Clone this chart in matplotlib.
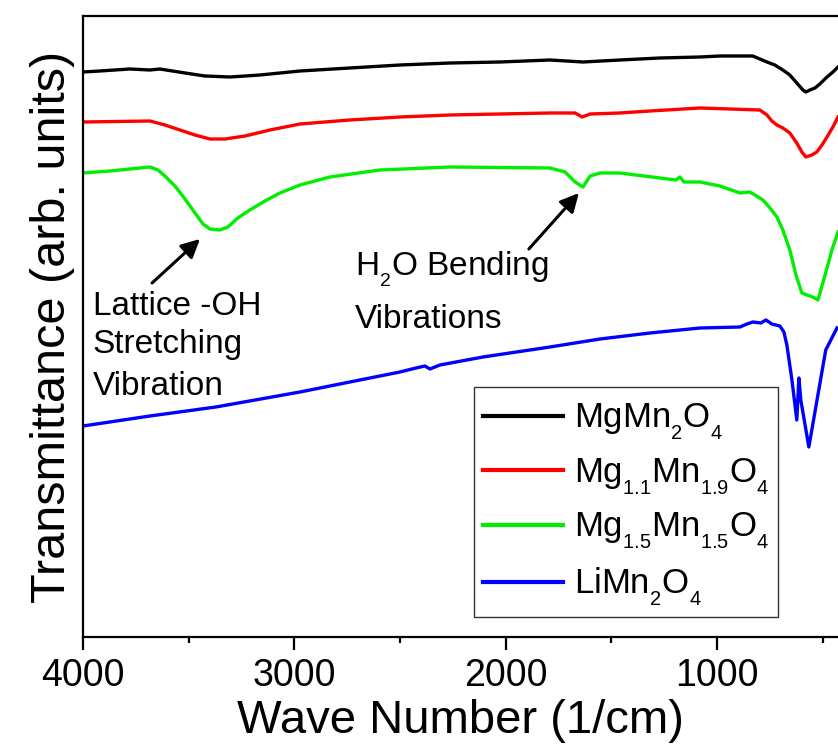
import matplotlib
matplotlib.use("Agg")
import matplotlib.pyplot as plt
from matplotlib.ticker import MultipleLocator
from matplotlib.patches import Rectangle
import matplotlib._mathtext as _mt

plt.rcParams['font.family'] = ['Liberation Sans', 'DejaVu Sans']
plt.rcParams['mathtext.fontset'] = 'custom'
plt.rcParams['mathtext.rm'] = 'Liberation Sans'
plt.rcParams['mathtext.it'] = 'Liberation Sans'
plt.rcParams['mathtext.default'] = 'regular'
# smaller, lower chemical-formula subscripts
_mt.SHRINK_FACTOR = 0.58
_mt.FontConstantsBase.sub1 = 0.65

# FTIR spectra (wavenumber in 1/cm, offset transmittance in arb. units)
wn_mg = [4000, 3920, 3778, 3683, 3636, 3517, 3423, 3304, 3162, 2973, 2737, 2500,
         2263, 2027, 1790, 1634, 1459, 1270, 1080, 986, 830, 797, 763, 726, 688,
         655, 622, 593, 579, 560, 536, 513, 479, 451, 427]
t_mg = [565, 566, 568, 567, 568, 564, 561, 560, 562, 566, 569, 572,
        574, 575, 577, 575, 577, 579, 580, 581, 581, 578, 575, 572, 567,
        562, 554, 547, 545, 547, 549, 553, 560, 565, 570]

wn_mg11 = [4000, 3683, 3612, 3541, 3470, 3399, 3328, 3233, 3115, 2973, 2737, 2500,
           2263, 2027, 1790, 1671, 1638, 1600, 1459, 1317, 1080, 797, 763, 740,
           716, 688, 655, 622, 598, 579, 551, 527, 503, 479, 451, 427]
t_mg11 = [515, 516, 512, 507, 502, 498, 498, 501, 507, 513, 517, 520,
          522, 523, 524, 524, 520, 523, 524, 526, 529, 527, 522, 516,
          512, 509, 504, 494, 485, 480, 482, 485, 492, 500, 510, 520]

wn_mg15 = [4000, 3872, 3778, 3683, 3645, 3612, 3565, 3517, 3470, 3432, 3399, 3352,
           3314, 3267, 3210, 3139, 3068, 2973, 2831, 2595, 2263, 1790, 1719, 1671,
           1634, 1600, 1553, 1459, 1270, 1194, 1175, 1156, 1080, 986, 891, 844,
           782, 749, 716, 688, 655, 626, 598, 574, 546, 522, 499, 475, 456, 427]
t_mg15 = [464, 466, 468, 470, 467, 461, 451, 438, 424, 413, 408, 407,
          410, 419, 427, 436, 444, 452, 460, 467, 470, 469, 465, 455,
          450, 461, 464, 464, 459, 457, 460, 455, 455, 451, 444, 445,
          437, 429, 420, 407, 387, 362, 344, 342, 340, 337, 354, 372, 387, 405]

wn_li = [4000, 3683, 3371, 2973, 2737, 2500, 2424, 2382, 2358, 2311, 2107, 1790,
         1553, 1317, 1080, 891, 858, 830, 792, 768, 740, 702, 683, 669, 645, 622,
         612, 603, 565, 532, 485, 432]
t_li = [211, 221, 230, 245, 255, 265, 269, 271, 268, 272, 280, 290,
        298, 304, 309, 310, 313, 315, 314, 317, 313, 311, 305, 292, 257, 217,
        259, 237, 190, 230, 287, 309]

labels = ['MgMn$_2$O$_4$', 'Mg$_{1.1}$Mn$_{1.9}$O$_4$',
          'Mg$_{1.5}$Mn$_{1.5}$O$_4$', 'LiMn$_2$O$_4$']
colors = ['#000000', '#ff0000', '#00ee00', '#0000ff']

fig = plt.figure(figsize=(8.38, 7.51), dpi=100)
ax = fig.add_axes([0.099, 0.1518, 0.901, 0.8269])

for wn, t, lab, c in zip([wn_mg, wn_mg11, wn_mg15, wn_li],
                         [t_mg, t_mg11, t_mg15, t_li], labels, colors):
    ax.plot(wn, t, color=c, lw=2.4, label=lab, solid_joinstyle='round')

ax.set_xlim(4000, 427)
ax.set_ylim(0, 621)
ax.xaxis.set_major_locator(MultipleLocator(1000))
ax.xaxis.set_minor_locator(MultipleLocator(500))
ax.tick_params(axis='x', which='major', direction='out', length=9, width=1.6,
               labelsize=27, pad=6, top=False)
ax.tick_params(axis='x', which='minor', direction='out', length=4.5, width=1.6,
               top=False)
ax.set_yticks([])
for side in ['left', 'bottom', 'top']:
    ax.spines[side].set_linewidth(1.6)
ax.spines['right'].set_visible(False)

ax.set_xlabel('Wave Number (1/cm)', fontsize=34, labelpad=4)
ax.set_ylabel('Transmittance (arb. units)', fontsize=35, labelpad=6)

arrow = dict(arrowstyle='-|>', color='black', lw=2.2, mutation_scale=28,
             shrinkA=0, shrinkB=0)
ax.annotate('', xy=(3446, 398), xytext=(3673, 354), arrowprops=arrow)
ax.annotate('', xy=(1653, 444), xytext=(1890, 388), arrowprops=arrow)

ax.text(3953, 322, 'Lattice -OH', fontsize=24, va='baseline', ha='left')
ax.text(3953, 284, 'Stretching', fontsize=24, va='baseline', ha='left')
ax.text(3953, 242, 'Vibration', fontsize=24, va='baseline', ha='left')
ax.text(2713, 362, 'H$_2$O Bending', fontsize=24, va='baseline', ha='left')
ax.text(2713, 309, 'Vibrations', fontsize=24, va='baseline', ha='left')

# legend box drawn as a plain rectangle, entries centred inside it
ax.add_patch(Rectangle((0.518, 0.0322), 0.4025, 0.3704, transform=ax.transAxes,
                       facecolor='white', edgecolor='#333333', lw=1.0,
                       zorder=4))
leg = ax.legend(loc='center', bbox_to_anchor=(0.7192, 0.2126),
                borderaxespad=0, fontsize=25, frameon=False, handlelength=2.3,
                handletextpad=0.3, labelspacing=0.41, borderpad=0)
leg.set_zorder(5)
for h in leg.get_lines():
    h.set_linewidth(3)

fig.savefig('out.png', dpi=100)
